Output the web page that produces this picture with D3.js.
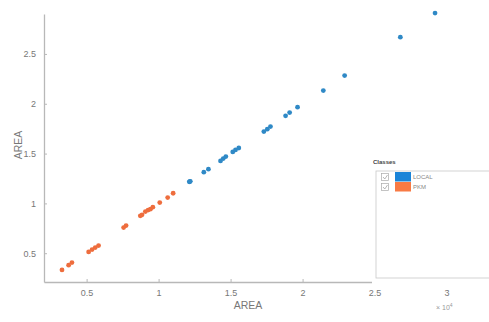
<!DOCTYPE html>
<html>
<head>
<meta charset="utf-8">
<script src="https://cdn.jsdelivr.net/npm/d3@7"></script>
<style>
  body { margin: 0; background: #fff; }
  svg { font-family: "Liberation Sans", Arial, sans-serif; }
  .axis path, .axis line { stroke: #b8b8b8; }
  .axis text { fill: #777; font-size: 9px; }
</style>
</head>
<body>
<div id="chart"></div>
<script>
// AREA vs AREA, both in units of 1e4
const localX = [12130, 12170, 12200, 13140, 13460, 14300, 14490, 14670, 15150, 15340, 15570,
  17310, 17550, 17770, 18820, 19100, 19650, 21440, 22920, 26790, 29200];
const localY = [12160, 12190, 12220, 13130, 13430, 14260, 14500, 14700, 15170, 15370, 15560,
  17210, 17450, 17710, 18790, 19120, 19660, 21320, 22830, 26680, 29100];
const pkmX = [3290, 3750, 3980, 5140, 5380, 5600, 5830, 7570, 7740,
  8730, 8850, 9080, 9270, 9430, 9600, 10080, 10630, 11010];
const pkmY = [3320, 3800, 4060, 5130, 5360, 5570, 5770, 7570, 7770,
  8750, 8850, 9180, 9330, 9420, 9620, 10080, 10580, 11020];

const classes = ['LOCAL', 'PKM'];
const pointColors = ['#2f89c6', '#ee6d3d'];
const swatchColors = ['#1a84d8', '#f87a44'];

const xTicks = [5000, 10000, 15000, 20000, 25000, 30000];
const yTicks = [5000, 10000, 15000, 20000, 25000];

const width = 489, height = 322;
const svg = d3.select('#chart').append('svg')
    .attr('width', width)
    .attr('height', height);

// scales: one unit (1e4) is about 144 px across, 100 px up
const xScale = d3.scaleLinear().domain([2040, 25030]).range([44, 375]);
const yScale = d3.scaleLinear().domain([2110, 29010]).range([282, 14]);

const fmt = d => String(d / 10000);

const xAxis = d3.axisBottom(xScale).tickValues(xTicks).tickFormat(fmt)
    .tickSizeInner(-3).tickSizeOuter(0).tickPadding(8);
const yAxis = d3.axisLeft(yScale).tickValues(yTicks).tickFormat(fmt)
    .tickSizeInner(-3).tickSizeOuter(0).tickPadding(8);

// points
const series = [
  {name: 'LOCAL', xs: localX, ys: localY, color: pointColors[0]},
  {name: 'PKM', xs: pkmX, ys: pkmY, color: pointColors[1]}
];
series.forEach(s => {
  svg.append('g').selectAll('circle')
      .data(s.xs.map((x, i) => ({x: x, y: s.ys[i]})))
      .join('circle')
      .attr('cx', d => xScale(d.x))
      .attr('cy', d => yScale(d.y))
      .attr('r', 2.4)
      .attr('fill', s.color);
});

// axes (the 3 tick sits under the legend panel, only its label shows)
const xAxisG = svg.append('g')
    .attr('class', 'axis x-axis')
    .attr('transform', `translate(0,${yScale.range()[0]})`)
    .call(xAxis);
xAxisG.select('.domain').attr('stroke-width', 1.3);

const yAxisG = svg.append('g')
    .attr('class', 'axis y-axis')
    .attr('transform', `translate(${xScale.range()[0]},0)`)
    .call(yAxis);
yAxisG.select('.domain').attr('stroke-width', 1.3);

// axis titles
svg.append('text')
    .attr('x', 248).attr('y', 309)
    .attr('text-anchor', 'middle')
    .attr('fill', '#777')
    .style('font-size', '10.5px')
    .text('AREA');
svg.append('text')
    .attr('transform', 'translate(22,145) rotate(-90)')
    .attr('text-anchor', 'middle')
    .attr('fill', '#777')
    .style('font-size', '10.5px')
    .text('AREA');

// exponent label
const expX = svg.append('text')
    .attr('x', 436).attr('y', 310)
    .attr('fill', '#999')
    .style('font-size', '7px');
expX.append('tspan').text('\u00d7 10');
expX.append('tspan').attr('dy', -3).style('font-size', '5px').text('4');

// legend panel
const leg = svg.append('g').attr('transform', 'translate(372,155)');
leg.append('rect')
    .attr('x', 0).attr('y', 0)
    .attr('width', 117).attr('height', 129)
    .attr('fill', '#fff');
leg.append('text')
    .attr('x', 1).attr('y', 9)
    .attr('fill', '#444')
    .style('font-size', '6px')
    .style('font-weight', 'bold')
    .text('Classes');
leg.append('rect')
    .attr('x', 4).attr('y', 16)
    .attr('width', 118).attr('height', 107)
    .attr('fill', '#fff')
    .attr('stroke', '#c8c8c8')
    .attr('stroke-width', 0.8);

const items = leg.selectAll('g.item')
    .data(classes)
    .join('g')
    .attr('class', 'item')
    .attr('transform', (d, i) => `translate(0,${17 + i * 10})`);
items.append('rect')
    .attr('x', 9.5).attr('y', 1.5)
    .attr('width', 7).attr('height', 7)
    .attr('fill', '#fff')
    .attr('stroke', '#aaa')
    .attr('stroke-width', 0.7);
items.append('path')
    .attr('d', 'M11,5 L12.8,7 L15.5,3')
    .attr('fill', 'none')
    .attr('stroke', '#999')
    .attr('stroke-width', 0.7);
items.append('rect')
    .attr('x', 23).attr('y', 0)
    .attr('width', 16).attr('height', 9.5)
    .attr('fill', (d, i) => swatchColors[i]);
items.append('text')
    .attr('x', 41).attr('y', 7)
    .attr('fill', '#888')
    .style('font-size', '6px')
    .text(d => d);
</script>
</body>
</html>
